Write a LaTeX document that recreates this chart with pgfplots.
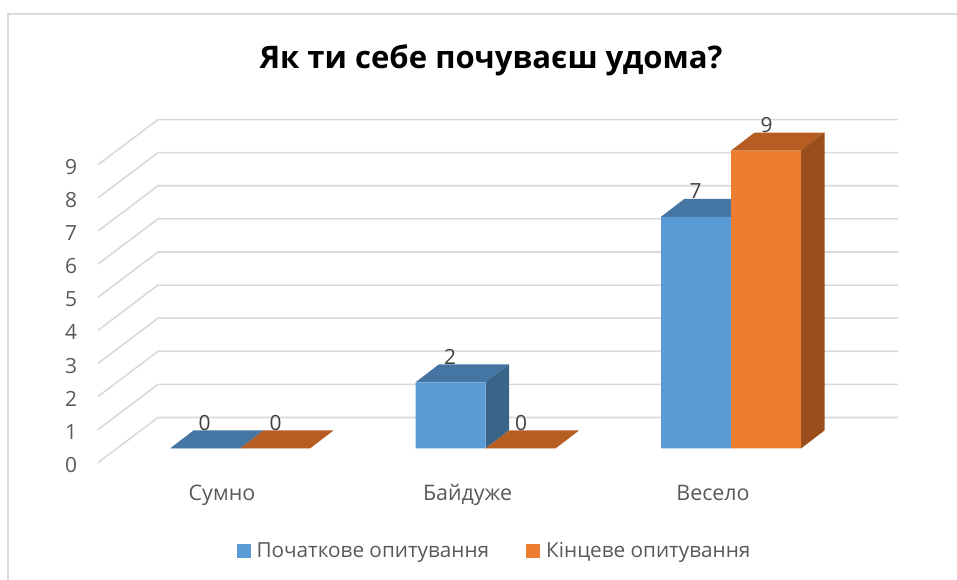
\documentclass[border=0pt]{standalone}
\usepackage{pgfplots}
\usepackage{pgfplotstable}
\pgfplotsset{compat=1.18}
\usepackage{fontspec}
\setmainfont{Open Sans}
\definecolor{gridc}{HTML}{D9D9D9}
\definecolor{bluef}{HTML}{5B9BD5}
\definecolor{bluet}{HTML}{4575A2}
\definecolor{blues}{HTML}{3A6488}
\definecolor{orf}{HTML}{ED7D31}
\definecolor{ort}{HTML}{B55D23}
\definecolor{ors}{HTML}{9A4E1C}
\definecolor{txt}{HTML}{595959}
\definecolor{lab}{HTML}{404040}
\pgfplotstableread{
x a b
0 0 0
1 2 0
2 7 9
}\survey
\begin{document}
\begin{tikzpicture}[x=1bp,y=1bp]
\path[use as bounding box] (0,0) rectangle (957,580);
\begin{axis}[
  at={(0,0)},anchor=south west,
  width=957bp,height=580bp,scale only axis,
  xmin=-0.9776,xmax=2.9206,ymin=-3.973,ymax=13.550,
  clip=false,
  axis line style={draw=none},
  major tick length=0pt,
  tick style={draw=none},
  /pgf/number format/assume math mode=true,
  xtick={0,1,2},xticklabels={Сумно,Байдуже,Весело},
  ytick={-0.429,0.571,1.571,2.571,3.571,4.571,5.571,6.571,7.571,8.571},
  yticklabels={0,1,2,3,4,5,6,7,8,9},
  x tick label style={anchor=base,xshift=-18bp,yshift=79bp,font=\fontsize{21.5}{24}\selectfont,text=txt},
  y tick label style={anchor=center,xshift=71bp,yshift=-2.2bp,font=\fontsize{21}{24}\selectfont,text=txt},
  legend style={draw=none,fill=none,at={(494.5bp,29bp)},anchor=center,legend columns=2,
    font=\fontsize{20.8}{24}\selectfont,text=txt,inner sep=0pt,
    /tikz/every even column/.append style={column sep=35bp}},
  legend cell align=left,
  legend image code/.code={\fill[#1] (0bp,-7bp) rectangle (14bp,7bp);\path (18bp,0bp);},
]
% gridlines: back wall and left wall
\addplot[forget plot,gridc,line width=1.6bp] coordinates {(-0.5784,-0.429)(-0.3340,0.937)(2.6802,0.937)};
\addplot[forget plot,gridc,line width=1.6bp] coordinates {(-0.5784,0.571)(-0.3340,1.937)(2.6802,1.937)};
\addplot[forget plot,gridc,line width=1.6bp] coordinates {(-0.5784,1.571)(-0.3340,2.937)(2.6802,2.937)};
\addplot[forget plot,gridc,line width=1.6bp] coordinates {(-0.5784,2.571)(-0.3340,3.937)(2.6802,3.937)};
\addplot[forget plot,gridc,line width=1.6bp] coordinates {(-0.5784,3.571)(-0.3340,4.937)(2.6802,4.937)};
\addplot[forget plot,gridc,line width=1.6bp] coordinates {(-0.5784,4.571)(-0.3340,5.937)(2.6802,5.937)};
\addplot[forget plot,gridc,line width=1.6bp] coordinates {(-0.5784,5.571)(-0.3340,6.937)(2.6802,6.937)};
\addplot[forget plot,gridc,line width=1.6bp] coordinates {(-0.5784,6.571)(-0.3340,7.937)(2.6802,7.937)};
\addplot[forget plot,gridc,line width=1.6bp] coordinates {(-0.5784,7.571)(-0.3340,8.937)(2.6802,8.937)};
\addplot[forget plot,gridc,line width=1.6bp] coordinates {(-0.5784,8.571)(-0.3340,9.937)(2.6802,9.937)};
% chart frame
\addplot[forget plot,gridc,line width=1.6bp] coordinates {(-0.945,-3.973)(-0.945,13.127)(2.9206,13.127)};
% depth faces, blue
\addplot[forget plot,fill=bluet,draw=none] coordinates {(-0.2851,0)(0,0)(0.0957,0.544)(-0.1894,0.544)} -- cycle;
\addplot[forget plot,fill=bluet,draw=none] coordinates {(0.7149,2)(1,2)(1.0957,2.544)(0.8106,2.544)} -- cycle;
\addplot[forget plot,fill=blues,draw=none] coordinates {(1,0)(1,2)(1.0957,2.544)(1.0957,0.544)} -- cycle;
\addplot[forget plot,fill=bluet,draw=none] coordinates {(1.7149,7)(2,7)(2.0957,7.544)(1.8106,7.544)} -- cycle;
\addplot[forget plot,fill=blues,draw=none] coordinates {(2,0)(2,7)(2.0957,7.544)(2.0957,0.544)} -- cycle;
% depth faces, orange
\addplot[forget plot,fill=ort,draw=none] coordinates {(0,0)(0.2851,0)(0.3808,0.544)(0.0957,0.544)} -- cycle;
\addplot[forget plot,fill=ort,draw=none] coordinates {(1,0)(1.2851,0)(1.3808,0.544)(1.0957,0.544)} -- cycle;
\addplot[forget plot,fill=ort,draw=none] coordinates {(2,9)(2.2851,9)(2.3808,9.544)(2.0957,9.544)} -- cycle;
\addplot[forget plot,fill=ors,draw=none] coordinates {(2.2851,0)(2.2851,9)(2.3808,9.544)(2.3808,0.544)} -- cycle;
% front faces
\addplot[ybar,bar width=70bp,bar shift=-35bp,fill=bluef,draw=none,
  nodes near coords,every node near coord/.append style={anchor=center,xshift=-35.5bp,yshift=25.5bp,font=\fontsize{21}{24}\selectfont,text=lab}]
  table[x=x,y=a]{\survey};
\addlegendentry{Початкове опитування}
\addplot[ybar,bar width=70bp,bar shift=35bp,fill=orf,draw=none,
  nodes near coords,every node near coord/.append style={anchor=center,xshift=35.5bp,yshift=25.5bp,font=\fontsize{21}{24}\selectfont,text=lab}]
  table[x=x,y=b]{\survey};
\addlegendentry{Кінцеве опитування}
\node[font=\bfseries\fontsize{31.2}{34}\selectfont,text=black] at (axis cs:1.0224,11.72) {Як ти себе почуваєш удома?};
\end{axis}
\end{tikzpicture}
\end{document}
